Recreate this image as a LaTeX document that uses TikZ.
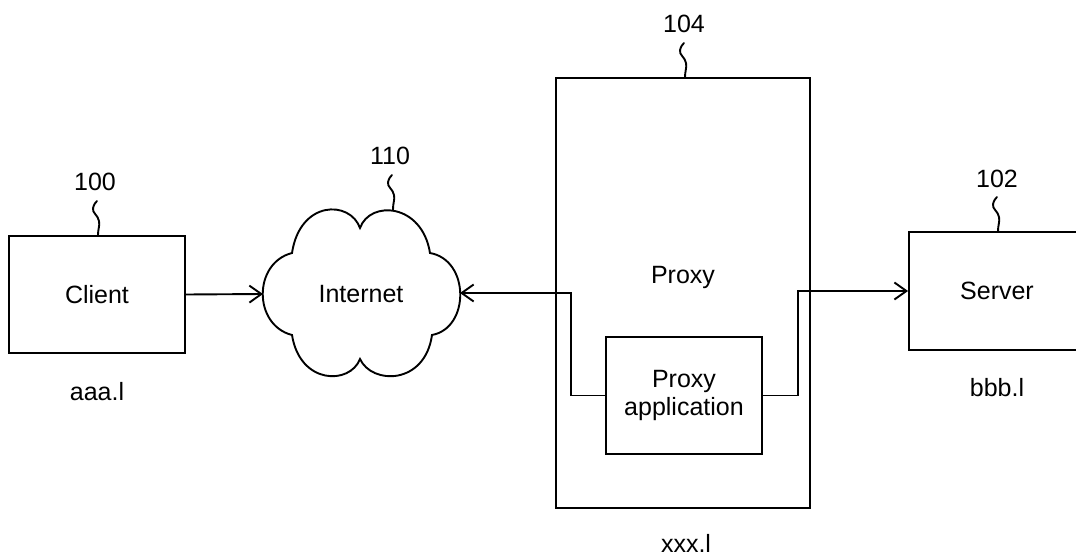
\documentclass[tikz,border=0pt]{standalone}
\usepackage{fontspec}
\setmainfont{Liberation Sans}
\usetikzlibrary{arrows.meta,positioning}

\tikzset{
  line/.style={line width=0.95pt, line cap=round, line join=miter},
  arr/.style={line, -{Straight Barb[length=6pt,width=8.5pt,line width=0.95pt]}},
  block/.style={line, draw, rectangle, inner sep=0pt, align=center},
  lbl/.style={inner sep=0pt, font=\fontsize{12.5}{15}\selectfont},
  squig/.pic={
    \draw[line] (0,0) .. controls (0,-8) and (2,-10) .. (1,-15)
      .. controls (0,-21) and (-6,-23) .. (-5,-28)
      .. controls (-4,-32) and (-2,-34) .. (-1,-35);
  }
}

\begin{document}
\begin{tikzpicture}[x=0.5pt, y=-0.5pt, font=\fontsize{12.5}{15}\selectfont]
\useasboundingbox (0,0) rectangle (1076,556);
\begin{scope}
\clip (0,0) rectangle (1076,556);

% Client
\node[block, minimum width=88pt, minimum height=58.5pt] (client) at (97,294.5) {Client};
\node[lbl] (clientaddr) at (97,392) {aaa.l};
\pic at (98,236) {squig};
\node[lbl] (clientnum) at (95,182) {100};

% Internet cloud
\coordinate (n1) at (360,228);
\coordinate (n2) at (430,253);
\coordinate (n3) at (432,335);
\coordinate (n4) at (360,359);
\coordinate (n5) at (292,335);
\coordinate (n6) at (292,253);
\draw[line] (n1) .. controls (370,200) and (422,203) .. (n2)
  .. controls (470,260) and (470,328) .. (n3)
  .. controls (425,385) and (372,385) .. (n4)
  .. controls (350,385) and (300,385) .. (n5)
  .. controls (253,325) and (253,263) .. (n6)
  .. controls (300,200) and (350,200) .. cycle;
\coordinate (cloudW) at (263,294);
\coordinate (cloudE) at (460,293);
\node[lbl] (internet) at (361,294) {Internet};
\pic at (393,210) {squig};
\node[lbl] (cloudnum) at (390,156) {110};

% Proxy host
\node[block, minimum width=127pt, minimum height=215pt] (proxy) at (683,293) {};
\node[lbl] (proxylabel) at (683,277) {Proxy};
\node[block, minimum width=78pt, minimum height=58.5pt] (app) at (684,395.5)
  {Proxy\\[-1pt]application};
\node[lbl] (proxyaddr) at (686,543) {xxx.l};
\pic at (685,78) {squig};
\node[lbl] (proxynum) at (684,24) {104};

% Server
\node[block, minimum width=88pt, minimum height=59pt] (server) at (997,291) {Server};
\node[lbl] (serveraddr) at (997,388) {bbb.l};
\pic at (998,232) {squig};
\node[lbl] (servernum) at (997,179) {102};

% Connections
\draw[arr] (client.east) -- (cloudW);
\draw[arr] (app.west) -- ++(-34,0) |- (cloudE);
\draw[arr] (app.east) -- ++(35,0) |- (server.west);
\end{scope}
\end{tikzpicture}
\end{document}
